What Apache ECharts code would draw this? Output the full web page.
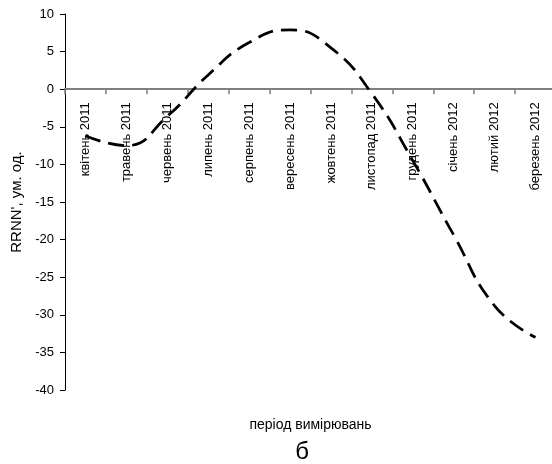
<!DOCTYPE html>
<html>
<head>
<meta charset="utf-8">
<script src="https://cdn.jsdelivr.net/npm/echarts@6/dist/echarts.min.js"></script>
<style>html,body{margin:0;padding:0;background:#fff}#c{width:552px;height:464px}</style>
</head>
<body>
<div id="c"></div>
<script>
var categories = ['квітень 2011','травень 2011','червень 2011','липень 2011','серпень 2011','вересень 2011','жовтень 2011','листопад 2011','грудень 2011','січень 2012','лютий 2012','березень 2012'];
var values = [-6.2, -7.5, -3.6, 1.9, 6.2, 7.9, 5.5, -0.6, -9.5, -19.4, -28.8, -33];
var yTicks = {min: -40, max: 10, interval: 5};
var yName = "RRNN', ум. од.";
var xName = 'період вимірювань';
var caption = 'б';

var font = '"Liberation Sans", Arial, sans-serif';
var gridLeft = 65, gridTop = 14, gridBottomPx = 390, gridRightPx = 556;
var zeroOffset = -(gridBottomPx - (gridTop + (gridBottomPx - gridTop) * (yTicks.max / (yTicks.max - yTicks.min))));
var chart = echarts.init(document.getElementById('c'), null, {renderer: 'canvas'});
chart.setOption({
  animation: false,
  backgroundColor: '#fff',
  grid: {left: gridLeft, top: gridTop, bottom: 464 - gridBottomPx, right: 552 - gridRightPx, containLabel: false, outerBoundsMode: 'none'},
  xAxis: {
    type: 'category',
    data: categories,
    boundaryGap: true,
    offset: zeroOffset,
    axisLine: {onZero: false, lineStyle: {color: '#808080', width: 2}},
    axisTick: {show: true, length: 5, lineStyle: {color: '#808080', width: 1.5}},
    axisLabel: {rotate: 90, interval: 0, color: '#000', fontSize: 13, fontFamily: font, margin: 13},
    splitLine: {show: false}
  },
  yAxis: {
    type: 'value',
    min: yTicks.min, max: yTicks.max, interval: yTicks.interval,
    name: yName,
    nameLocation: 'middle',
    nameGap: 38,
    nameTextStyle: {color: '#000', fontSize: 15, fontFamily: font},
    axisLine: {show: true, lineStyle: {color: '#000', width: 1}},
    axisTick: {show: true, length: 5, lineStyle: {color: '#000'}},
    axisLabel: {color: '#000', fontSize: 13, fontFamily: font, margin: 11},
    splitLine: {show: false}
  },
  graphic: [
    {type: 'text', x: (gridLeft + gridRightPx) / 2, y: 425, style: {text: xName, fill: '#000', font: '14px ' + font, align: 'center', verticalAlign: 'middle'}},
    {type: 'text', x: 302, y: 452, style: {text: caption, fill: '#000', font: '24px ' + font, align: 'center', verticalAlign: 'middle'}}
  ],
  series: [{
    type: 'line',
    data: values,
    smooth: 0.5,
    symbol: 'none',
    lineStyle: {color: '#000', width: 2.75, type: [16, 8]}
  }]
});
</script>
</body>
</html>
